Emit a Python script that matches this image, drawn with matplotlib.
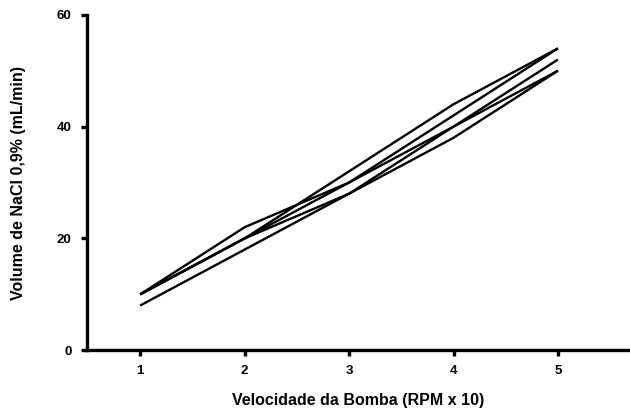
import numpy as np
import matplotlib
matplotlib.use("Agg")
import matplotlib.pyplot as plt

plt.rcParams['font.family'] = ['Liberation Sans', 'DejaVu Sans']

rpm = [1, 2, 3, 4, 5]
volumes = [
    [8, 18, 28, 38, 50],
    [10, 22, 30, 40, 50],
    [10, 20, 32, 44, 54],
    [10, 20, 30, 42, 54],
    [10, 20, 28, 40, 52],
]
yticks = [0, 20, 40, 60]

fig = plt.figure(figsize=(6.3, 4.12), dpi=100)
ax = fig.add_axes([0.138, 0.150, 0.862, 0.814])

for v in volumes:
    ax.plot(rpm, v, color='black', lw=1.7, solid_capstyle='butt')

ax.set_xlim(0.49, 5.69)
ax.set_ylim(0, 60)
ax.set_xticks(rpm)
ax.set_yticks(yticks)
for s in ['top', 'right']:
    ax.spines[s].set_visible(False)
for s in ['left', 'bottom']:
    ax.spines[s].set_linewidth(2.4)
ax.tick_params(width=2.4, length=4, labelsize=9.5, pad=7)
for lab in ax.get_xticklabels() + ax.get_yticklabels():
    lab.set_fontweight('bold')

ax.set_xlabel('Velocidade da Bomba (RPM x 10)', fontsize=11.5, fontweight='bold', labelpad=11)
ax.set_ylabel('Volume de NaCl 0,9% (mL/min)', fontsize=11.5, fontweight='bold', labelpad=22)

fig.savefig('out.png', dpi=100)
